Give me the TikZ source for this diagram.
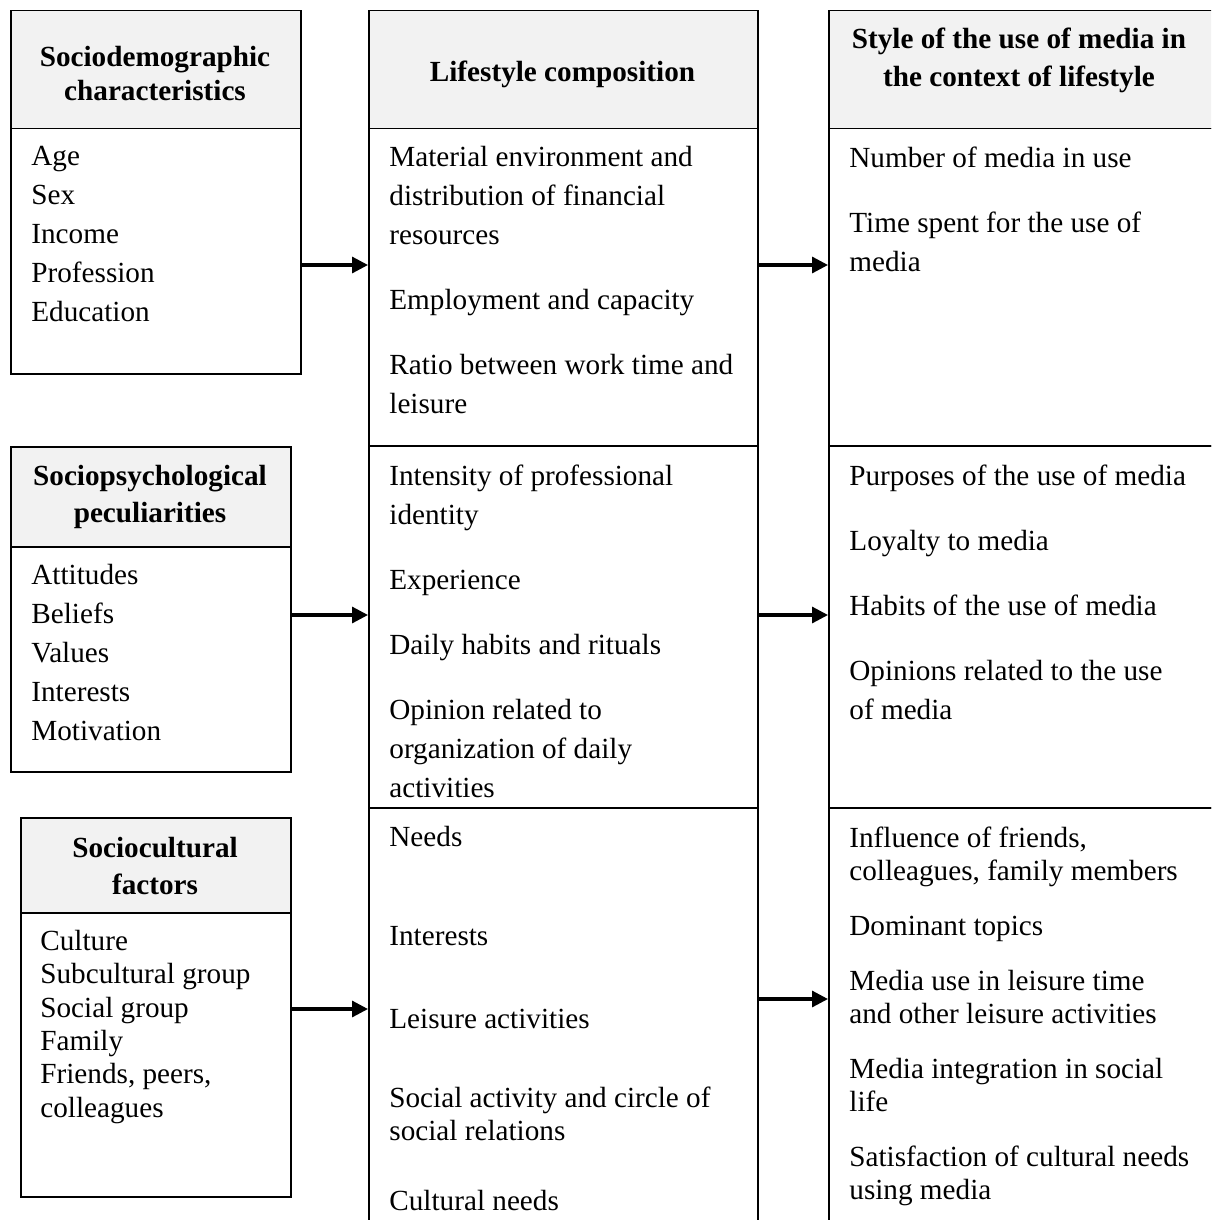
\documentclass[tikz,border=0pt]{standalone}
\usepackage{fontspec}
\setmainfont{Liberation Serif}
\usetikzlibrary{arrows.meta}
\definecolor{hdrgray}{HTML}{F2F2F2}
\tikzset{
    frame/.style={
        draw,
        line width=0.75pt,
        inner sep=0pt,
        anchor=north west
    },
    head/.style={
        frame,
        fill=hdrgray
    },
    htext/.style={
        inner sep=0pt,
        align=center,
        font=\bfseries\fontsize{14.6pt}{18.5pt}\selectfont,
        execute at begin node=\strut
    },
    btext/.style={
        anchor=north west,
        inner sep=0pt,
        align=left,
        font=\fontsize{14.6pt}{19.5pt}\selectfont,
        execute at begin node=\strut
    },
    tight/.style={
        font=\fontsize{14.6pt}{16.5pt}\selectfont
    },
    line/.style={
        -{Triangle[length=8pt,width=8pt]},
        line width=1.6pt
    }
}

\begin{document}
\begin{tikzpicture}[x=0.5pt, y=-0.5pt]

    \useasboundingbox (0,0) rectangle (1211,1220);
    \clip (0,0) rectangle (1211,1220);

    % left column
    \node[head, minimum width=145pt, minimum height=59pt] (sdhead) at (10,10) {};
    \node[frame, minimum width=145pt, minimum height=122.5pt] (sdbody) at (10,128) {};
    \node[head, minimum width=140pt, minimum height=50pt] (sphead) at (10,446) {};
    \node[frame, minimum width=140pt, minimum height=112.5pt] (spbody) at (10,546) {};
    \node[head, minimum width=135pt, minimum height=47.5pt] (schead) at (20,817) {};
    \node[frame, minimum width=135pt, minimum height=142pt] (scbody) at (20,912) {};

    \node[htext, anchor=north, font=\bfseries\fontsize{14.6pt}{17pt}\selectfont] (sdtitle) at (155,45.7) {Sociodemographic\\characteristics};
    \node[btext] (sdlist) at (31,146.2) {Age\\Sex\\Income\\Profession\\Education};
    \node[htext, anchor=north] (sptitle) at (150,465) {Sociopsychological\\peculiarities};
    \node[btext] (splist) at (31,564.2) {Attitudes\\Beliefs\\Values\\Interests\\Motivation};
    \node[htext, anchor=north] (sctitle) at (155,836.6) {Sociocultural\\factors};
    \node[btext, font=\fontsize{14.6pt}{16.7pt}\selectfont] (sclist) at (40,929.6) {Culture\\Subcultural group\\Social group\\Family\\Friends, peers,\\colleagues};

    % middle column
    \node[head, minimum width=194.5pt, minimum height=59pt] (lshead) at (368,10) {};
    \node[frame, minimum width=194.5pt, minimum height=158.5pt] (lsmat) at (368,128) {};
    \node[frame, minimum width=194.5pt, minimum height=181pt] (lspsy) at (368,445) {};
    \node[frame, minimum width=194.5pt, minimum height=216.5pt] (lscul) at (368,807) {};

    \node[htext, anchor=base] (lstitle) at (562.5,82) {Lifestyle composition};
    \node[btext] (lsmatlist) at (389,146.2) {Material environment and\\distribution of financial\\resources\\[13pt]Employment and capacity\\[13pt]Ratio between work time and\\leisure};
    \node[btext] (lspsylist) at (389,464.2) {Intensity of professional\\identity\\[13pt]Experience\\[13pt]Daily habits and rituals\\[13pt]Opinion related to\\organization of daily\\activities};
    \node[btext, tight] (lsculist) at (389,825.4) {Needs\\[33pt]Interests\\[25pt]Leisure activities\\[23pt]Social activity and circle of\\social relations\\[18.5pt]Cultural needs};

    % right column
    \node[head, minimum width=201pt, minimum height=59pt] (mshead) at (828,10) {};
    \node[frame, minimum width=201pt, minimum height=158.5pt] (msmat) at (828,128) {};
    \node[frame, minimum width=201pt, minimum height=181pt] (mspsy) at (828,445) {};
    \node[frame, minimum width=201pt, minimum height=216.5pt] (mscul) at (828,807) {};

    \node[htext, anchor=north, font=\bfseries\fontsize{14.6pt}{19pt}\selectfont] (mstitle) at (1019,27.4) {Style of the use of media in\\the context of lifestyle};
    \node[btext] (msmatlist) at (849,146.2) {Number of media in use\\[13pt]Time spent for the use of\\media};
    \node[btext] (mspsylist) at (849,464.2) {Purposes of the use of media\\[13pt]Loyalty to media\\[13pt]Habits of the use of media\\[13pt]Opinions related to the use\\of media};
    \node[btext, tight] (msculist) at (849,826.4) {Influence of friends,\\colleagues, family members\\[11pt]Dominant topics\\[11pt]Media use in leisure time\\and other leisure activities\\[11pt]Media integration in social\\life\\[11pt]Satisfaction of cultural needs\\using media};

    % arrows
    \coordinate (row1) at (0,265);
    \coordinate (row2) at (0,615);
    \coordinate (row3) at (0,1009);
    \coordinate (row4) at (0,999);

    \draw[line] (sdbody.east |- row1) -- (lsmat.west |- row1);
    \draw[line] (lsmat.east |- row1) -- (msmat.west |- row1);
    \draw[line] (spbody.east |- row2) -- (lspsy.west |- row2);
    \draw[line] (lspsy.east |- row2) -- (mspsy.west |- row2);
    \draw[line] (scbody.east |- row3) -- (lscul.west |- row3);
    \draw[line] (lscul.east |- row4) -- (mscul.west |- row4);

\end{tikzpicture}
\end{document}
